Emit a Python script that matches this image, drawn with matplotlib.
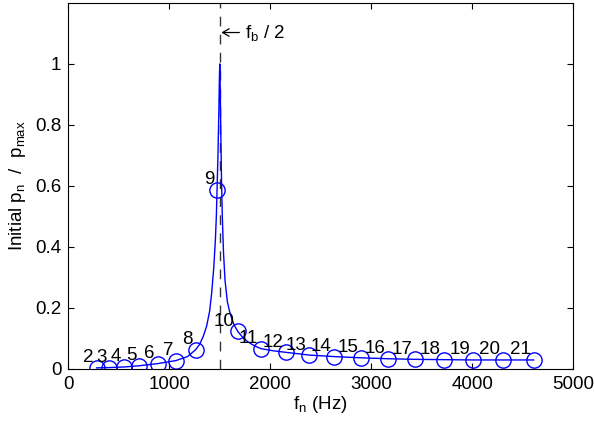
import matplotlib
matplotlib.use("Agg")
import matplotlib.pyplot as plt

plt.rcParams["font.family"] = ["Liberation Sans", "DejaVu Sans"]
plt.rcParams["mathtext.default"] = "regular"

# harmonic number, frequency (Hz) and normalised initial pressure
n_labels = [2, 3, 4, 5, 6, 7, 8, 9, 10, 11, 12, 13, 14, 15, 16, 17, 18, 19, 20, 21]
f_n = [280, 405, 554, 703, 885, 1066, 1262, 1473, 1678, 1909,
       2154, 2388, 2635, 2900, 3165, 3435, 3716, 4007, 4300, 4608]
p_n = [0.003, 0.004, 0.006, 0.010, 0.017, 0.027, 0.063, 0.588, 0.1225, 0.065,
       0.054, 0.045, 0.040, 0.036, 0.033, 0.031, 0.030, 0.029, 0.029, 0.029]

# continuous response curve
curve_f = [280, 405, 554, 703, 885, 1066, 1180, 1262, 1300, 1336, 1370, 1400,
           1420, 1440, 1456, 1466, 1473, 1482, 1490, 1496, 1500, 1504, 1510,
           1517, 1525, 1537, 1552, 1575, 1601, 1640, 1678, 1730, 1780, 1840,
           1909, 2030, 2154, 2388, 2635, 2900, 3165, 3435, 3716, 4007, 4300,
           4608]
curve_p = [0.003, 0.004, 0.006, 0.010, 0.017, 0.027, 0.040, 0.063, 0.080,
           0.106, 0.14, 0.19, 0.25, 0.33, 0.42, 0.50, 0.588, 0.70, 0.83, 0.95,
           1.0, 0.93, 0.78, 0.62, 0.50, 0.38, 0.29, 0.22, 0.183, 0.145, 0.1225,
           0.102, 0.088, 0.076, 0.066, 0.059, 0.054, 0.045, 0.040, 0.036,
           0.033, 0.031, 0.030, 0.029, 0.029, 0.029]

f_half = 1500

fig = plt.figure(figsize=(5.94, 4.21), dpi=100)
ax = fig.add_axes([0.115, 0.124, 0.85, 0.869])

ax.axvline(f_half, color="#333333", lw=1, dashes=(7, 6))
ax.plot(curve_f, curve_p, color="b", lw=1)
ax.plot(f_n, p_n, "o", color="b", mfc="none", ms=11, mew=1)

for n, f, p in zip(n_labels, f_n, p_n):
    ax.annotate(str(n), (f, p), xytext=(-2, 4), textcoords="offset points",
                ha="right", va="baseline", fontsize=13.5)

# "<- f_b / 2" marker next to the dashed line
ax.annotate("f$_b$ / 2", xy=(f_half + 15, 1.103), xytext=(17, 0),
            textcoords="offset points", ha="left", va="center", fontsize=13.5,
            arrowprops=dict(arrowstyle="->, head_length=0.35, head_width=0.2",
                            color="black", lw=0.9, shrinkA=2, shrinkB=0))

ax.set_xlim(0, 5000)
ax.set_ylim(0, 1.2)
ax.set_xticks([0, 1000, 2000, 3000, 4000, 5000])
ax.set_yticks([0, 0.2, 0.4, 0.6, 0.8, 1])
ax.set_yticklabels(["0", "0.2", "0.4", "0.6", "0.8", "1"])
ax.tick_params(direction="in", top=True, right=True, length=4,
               labelsize=13.5, pad=5)
ax.set_xlabel("f$_n$ (Hz)", fontsize=13.5, labelpad=1)
ax.set_ylabel("Initial p$_n$  /  p$_{max}$", fontsize=13.5, labelpad=5)

fig.savefig("out.png", dpi=100)
